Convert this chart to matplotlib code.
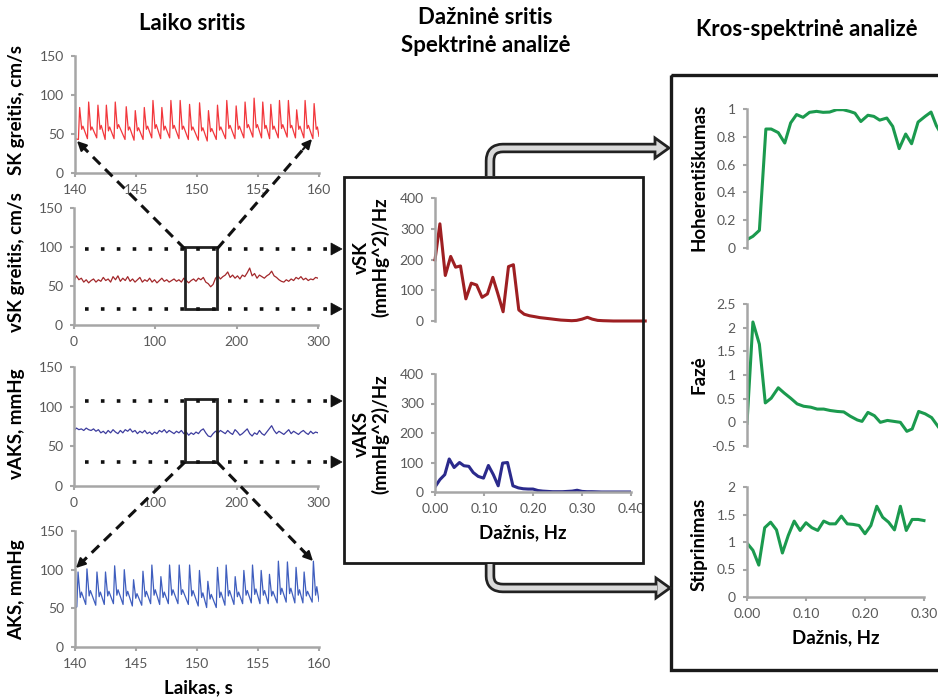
import numpy as np
import matplotlib
matplotlib.use('Agg')
import matplotlib.pyplot as plt
from matplotlib.patches import Rectangle, Polygon, PathPatch, FancyArrowPatch
from matplotlib.lines import Line2D
from matplotlib.path import Path
from matplotlib.transforms import Affine2D
from matplotlib.ticker import FuncFormatter

plt.rcParams['font.family'] = ['Lato', 'DejaVu Sans']
plt.rcParams['axes.unicode_minus'] = False

# ---------------- data ----------------
sk_t = [140.00,
        140.28, 140.38, 140.55, 140.65, 141.02, 141.12, 141.29, 141.39,
        141.78, 141.88, 142.05, 142.15, 142.47, 142.57, 142.74, 142.84,
        143.20, 143.30, 143.47, 143.57, 144.10, 144.20, 144.37, 144.47,
        144.84, 144.94, 145.11, 145.21, 145.58, 145.68, 145.85, 145.95,
        146.29, 146.39, 146.56, 146.66, 147.02, 147.12, 147.29, 147.39,
        147.76, 147.86, 148.03, 148.13, 148.52, 148.62, 148.79, 148.89,
        149.29, 149.39, 149.56, 149.66, 150.11, 150.21, 150.38, 150.48,
        150.84, 150.94, 151.11, 151.21, 151.58, 151.68, 151.85, 151.95,
        152.34, 152.44, 152.61, 152.71, 153.11, 153.21, 153.38, 153.48,
        153.84, 153.94, 154.11, 154.21, 154.58, 154.68, 154.85, 154.95,
        155.29, 155.39, 155.56, 155.66, 155.95, 156.05, 156.22, 156.32,
        156.66, 156.76, 156.93, 157.03, 157.39, 157.49, 157.66, 157.76,
        158.07, 158.17, 158.34, 158.44, 158.76, 158.86, 159.03, 159.13,
        159.50, 159.60, 159.77, 159.87, 160.00]
sk_v = [44,
        43, 84, 56, 60, 44, 91, 55, 59,
        45, 87, 56, 61, 43, 87, 54, 59,
        44, 91, 57, 62, 43, 85, 55, 59,
        42, 80, 54, 58, 43, 84, 56, 60,
        45, 93, 57, 62, 44, 84, 55, 60,
        45, 93, 57, 61, 44, 93, 56, 60,
        43, 88, 55, 59, 42, 90, 54, 58,
        41, 80, 53, 57, 43, 87, 55, 59,
        44, 93, 57, 61, 44, 86, 56, 60,
        45, 91, 58, 62, 46, 96, 58, 62,
        45, 91, 57, 61, 44, 88, 56, 60,
        45, 93, 57, 62, 46, 93, 58, 61,
        45, 81, 56, 60, 45, 93, 57, 61,
        44, 89, 56, 59, 47]

aks_t = [140.00,
         140.15, 140.25, 140.43, 140.53, 140.88, 140.98, 141.16, 141.26,
         141.70, 141.80, 141.98, 142.08, 142.40, 142.50, 142.68, 142.78,
         143.15, 143.25, 143.43, 143.53, 143.94, 144.04, 144.22, 144.32,
         144.70, 144.80, 144.98, 145.08, 145.47, 145.57, 145.75, 145.85,
         146.20, 146.30, 146.48, 146.58, 146.94, 147.04, 147.22, 147.32,
         147.65, 147.75, 147.93, 148.03, 148.44, 148.54, 148.72, 148.82,
         149.29, 149.39, 149.57, 149.67, 150.10, 150.20, 150.38, 150.48,
         150.79, 150.89, 151.07, 151.17, 151.58, 151.68, 151.86, 151.96,
         152.29, 152.39, 152.57, 152.67, 153.03, 153.13, 153.31, 153.41,
         153.74, 153.84, 154.02, 154.12, 154.45, 154.55, 154.73, 154.83,
         155.16, 155.26, 155.44, 155.54, 155.84, 155.94, 156.12, 156.22,
         156.57, 156.67, 156.85, 156.95, 157.31, 157.41, 157.59, 157.69,
         158.02, 158.12, 158.30, 158.40, 158.68, 158.78, 158.96, 159.06,
         159.44, 159.54, 159.72, 159.82, 160.00]
aks_v = [50,
         52, 97, 64, 71, 55, 101, 66, 73,
         54, 97, 65, 71, 55, 97, 66, 72,
         56, 105, 67, 74, 55, 100, 66, 72,
         53, 87, 63, 69, 54, 98, 65, 72,
         56, 106, 67, 74, 55, 91, 64, 71,
         56, 106, 67, 74, 56, 106, 68, 74,
         55, 106, 66, 73, 53, 99, 64, 70,
         51, 85, 62, 68, 51, 103, 64, 71,
         54, 106, 66, 73, 55, 91, 65, 71,
         56, 99, 67, 73, 57, 106, 68, 75,
         56, 99, 67, 73, 56, 94, 66, 72,
         57, 111, 68, 76, 58, 110, 69, 76,
         57, 103, 67, 74, 57, 97, 66, 72,
         58, 111, 67, 78, 59]

vsk_t = list(range(0, 301, 3))
vsk_v = [57, 63, 58, 60, 55, 58, 54, 57, 59, 55, 58, 56, 61, 57, 59, 55, 62, 58,
         63, 56, 60, 57, 62, 56, 59, 55, 58, 61, 55, 58, 56, 60, 55, 58, 54, 57,
         60, 56, 58, 55, 57, 59, 56, 58, 55, 60, 57, 54, 57, 59, 56, 60, 58, 61,
         55, 53, 49, 52, 60, 63, 59, 62, 64, 68, 61, 64, 60, 63, 59, 64, 62, 67,
         73, 63, 66, 60, 64, 62, 60, 63, 65, 69, 63, 61, 58, 56, 55, 58, 56, 59,
         57, 61, 59, 62, 58, 60, 57, 59, 58, 61, 60]

vaks_t = list(range(0, 301, 3))
vaks_v = [70, 73, 71, 72, 70, 73, 71, 70, 72, 69, 71, 67, 69, 66, 70, 67, 71, 68,
          66, 70, 67, 71, 69, 72, 68, 70, 66, 69, 67, 70, 66, 68, 65, 68, 66, 70,
          68, 71, 67, 70, 68, 66, 69, 67, 70, 66, 68, 64, 67, 65, 68, 66, 70, 72,
          67, 63, 62, 66, 69, 67, 70, 68, 66, 70, 67, 65, 71, 68, 64, 66, 69, 72,
          66, 63, 67, 65, 70, 66, 64, 68, 72, 76, 70, 66, 69, 67, 65, 68, 71, 66,
          69, 67, 65, 68, 70, 67, 65, 69, 66, 68, 67]

psd_vsk_f = [0.000, 0.010, 0.021, 0.032, 0.042, 0.052, 0.063, 0.074, 0.085, 0.096,
             0.107, 0.118, 0.128, 0.139, 0.150, 0.160, 0.171, 0.182, 0.193, 0.204,
             0.214, 0.225, 0.236, 0.246, 0.257, 0.268, 0.279, 0.289, 0.300, 0.311,
             0.321, 0.332, 0.343, 0.354, 0.364, 0.375, 0.386, 0.396, 0.407, 0.418, 0.429]
psd_vsk_v = [199, 316, 148, 210, 175, 179, 72, 123, 117, 77,
             88, 142, 90, 30, 177, 183, 36, 22, 17, 14,
             11, 9, 7, 5, 3, 2, 1, 2, 6, 12,
             6, 2, 1, 0.5, 0, 0, 0, 0, 0, 0, 0]

psd_vaks_f = [0.000, 0.010, 0.020, 0.029, 0.039, 0.050, 0.059, 0.069, 0.078, 0.088,
              0.099, 0.109, 0.119, 0.129, 0.138, 0.148, 0.159, 0.170, 0.180, 0.190,
              0.200, 0.210, 0.220, 0.230, 0.240, 0.250, 0.260, 0.270, 0.280, 0.290,
              0.300, 0.310, 0.320, 0.340, 0.360, 0.380, 0.400]
psd_vaks_v = [17, 42, 59, 112, 83, 100, 89, 87, 66, 53,
              47, 90, 59, 21, 98, 100, 21, 14, 11, 10,
              10, 5, 3, 2, 1, 1, 1, 2, 3, 6,
              2, 1, 1, 0, 0, 0, 0]

coh_f = [0.000, 0.010, 0.021, 0.032, 0.041, 0.053, 0.064, 0.074, 0.084, 0.095,
         0.106, 0.118, 0.129, 0.140, 0.152, 0.163, 0.174, 0.183, 0.193, 0.205,
         0.215, 0.225, 0.237, 0.247, 0.258, 0.269, 0.279, 0.290, 0.302, 0.312,
         0.321, 0.332]
coh_v = [0.06, 0.084, 0.127, 0.856, 0.856, 0.83, 0.755, 0.90, 0.96, 0.94,
         0.976, 0.983, 0.976, 0.978, 0.995, 0.995, 0.983, 0.97, 0.91, 0.955,
         0.947, 0.92, 0.935, 0.875, 0.715, 0.82, 0.75, 0.906, 0.947, 0.978,
         0.88, 0.80]

phase_f = [0.000, 0.010, 0.021, 0.031, 0.041, 0.053, 0.063, 0.074, 0.085, 0.096,
           0.108, 0.119, 0.130, 0.141, 0.153, 0.164, 0.175, 0.187, 0.195, 0.205,
           0.216, 0.226, 0.238, 0.249, 0.260, 0.271, 0.280, 0.291, 0.302, 0.313, 0.324]
phase_v = [-0.02, 2.12, 1.65, 0.41, 0.51, 0.73, 0.62, 0.51, 0.39, 0.34,
           0.32, 0.28, 0.28, 0.25, 0.23, 0.22, 0.13, 0.05, 0.02, 0.21,
           0.14, 0.0, 0.04, 0.02, 0.0, -0.19, -0.14, 0.23, 0.18, 0.10, -0.09]

gain_f = [0.00, 0.01, 0.02, 0.03, 0.04, 0.05, 0.06, 0.07, 0.08, 0.09,
          0.10, 0.11, 0.12, 0.13, 0.14, 0.15, 0.16, 0.17, 0.18, 0.19,
          0.20, 0.21, 0.22, 0.23, 0.24, 0.25, 0.26, 0.27, 0.28, 0.29, 0.30]
gain_v = [0.98, 0.85, 0.58, 1.26, 1.36, 1.22, 0.80, 1.12, 1.38, 1.21,
          1.35, 1.26, 1.21, 1.38, 1.33, 1.33, 1.47, 1.33, 1.32, 1.30,
          1.15, 1.30, 1.65, 1.45, 1.36, 1.22, 1.65, 1.21, 1.41, 1.41, 1.39]

# ---------------- figure ----------------
W, H = 938, 698
fig = plt.figure(figsize=(W / 100, H / 100), dpi=100)
fig.patch.set_facecolor('white')
PX = Affine2D().scale(1 / W, -1 / H).translate(0, 1) + fig.transFigure

AXC = '#A6A6A6'
TXC = '#595959'
LBL = 13.5
TTL = 16


def add_ax(x0, y0, x1, y1):
    return fig.add_axes([x0 / W, 1 - y1 / H, (x1 - x0) / W, (y1 - y0) / H])


def style(ax, bottom=True):
    for s in ['top', 'right']:
        ax.spines[s].set_visible(False)
    for s in ['left', 'bottom']:
        ax.spines[s].set_color(AXC)
        ax.spines[s].set_linewidth(1.8)
    ax.tick_params(colors=AXC, labelcolor=TXC, labelsize=10, length=3,
                   width=1.5, direction='out', pad=5)
    if not bottom:
        ax.spines['bottom'].set_visible(False)
        ax.tick_params(axis='x', bottom=False, labelbottom=False)
    ax.patch.set_alpha(0)


def ftext(x, y, s, size=LBL, rot=0, **kw):
    fig.text(x, y, s, transform=PX, ha='center', va='center', rotation=rot,
             fontsize=size, fontweight='bold', color='black', **kw)


gfmt = FuncFormatter(lambda v, p: f'{v:g}')
f2 = FuncFormatter(lambda v, p: f'{v:.2f}')

# left column
ax1 = add_ax(75, 56, 319, 173)
ax1.plot(sk_t, sk_v, color='#F2373C', lw=0.9)
ax1.set_xlim(140, 160); ax1.set_ylim(0, 150)
ax1.set_xticks([140, 145, 150, 155, 160]); ax1.set_yticks([0, 50, 100, 150])
style(ax1)

ax2 = add_ax(74, 208, 318, 325)
ax2.plot(vsk_t, vsk_v, color='#A3282B', lw=0.9)
ax2.set_xlim(0, 300); ax2.set_ylim(0, 150)
ax2.set_xticks([0, 100, 200, 300]); ax2.set_yticks([0, 50, 100, 150])
style(ax2)

ax3 = add_ax(74, 367, 318, 486)
ax3.plot(vaks_t, vaks_v, color='#3D3D9E', lw=0.9)
ax3.set_xlim(0, 300); ax3.set_ylim(0, 150)
ax3.set_xticks([0, 100, 200, 300]); ax3.set_yticks([0, 50, 100, 150])
style(ax3)

ax4 = add_ax(75, 531, 319, 647)
ax4.plot(aks_t, aks_v, color='#3F5EBE', lw=0.9)
ax4.set_xlim(140, 160); ax4.set_ylim(0, 150)
ax4.set_xticks([140, 145, 150, 155, 160]); ax4.set_yticks([0, 50, 100, 150])
style(ax4)

# zoom boxes
ax2.add_patch(Rectangle((137, 20), 39, 80, fill=False, ec='#222222', lw=2.0,
                        clip_on=False, zorder=5))
ax3.add_patch(Rectangle((137, 30), 39, 80, fill=False, ec='#222222', lw=2.0,
                        clip_on=False, zorder=5))

# middle column
ax5 = add_ax(435, 198, 631, 321)
ax5.plot(psd_vsk_f, psd_vsk_v, color='#9E1F22', lw=2.2, clip_on=False)
ax5.set_xlim(0, 0.40); ax5.set_ylim(0, 400)
ax5.set_yticks([0, 100, 200, 300, 400])
style(ax5, bottom=False)

ax6 = add_ax(435, 374, 631, 492)
ax6.plot(psd_vaks_f, psd_vaks_v, color='#2B2A8C', lw=2.2)
ax6.set_xlim(0, 0.40); ax6.set_ylim(0, 400)
ax6.set_xticks([0, 0.1, 0.2, 0.3, 0.4]); ax6.set_yticks([0, 100, 200, 300, 400])
ax6.xaxis.set_major_formatter(f2)
style(ax6)

# right column
GREEN = '#1B9A4E'
XR = 0.356
ax7 = add_ax(747, 109, 957, 248)
ax7.plot(coh_f, coh_v, color=GREEN, lw=2.2)
ax7.set_xlim(0, XR); ax7.set_ylim(0, 1)
ax7.set_yticks([0, 0.2, 0.4, 0.6, 0.8, 1]); ax7.yaxis.set_major_formatter(gfmt)
style(ax7, bottom=False)

ax8 = add_ax(747, 304, 957, 446)
ax8.plot(phase_f, phase_v, color=GREEN, lw=2.2)
ax8.set_xlim(0, XR); ax8.set_ylim(-0.5, 2.5)
ax8.set_yticks([-0.5, 0, 0.5, 1, 1.5, 2, 2.5]); ax8.yaxis.set_major_formatter(gfmt)
style(ax8, bottom=False)

ax9 = add_ax(747, 487, 957, 597)
ax9.plot(gain_f, gain_v, color=GREEN, lw=2.2)
ax9.set_xlim(0, XR); ax9.set_ylim(0, 2)
ax9.set_yticks([0, 0.5, 1, 1.5, 2]); ax9.yaxis.set_major_formatter(gfmt)
ax9.set_xticks([0, 0.1, 0.2, 0.3]); ax9.xaxis.set_major_formatter(f2)
style(ax9)
ax9.spines['bottom'].set_bounds(0, 0.3)

# ---------------- frames ----------------
fig.add_artist(Rectangle((344, 177), 299, 386, transform=PX, fill=False,
                         ec='#1a1a1a', lw=2.0))
fig.add_artist(Rectangle((671, 75), 290, 595, transform=PX, fill=False,
                         ec='#1a1a1a', lw=2.4))


# thick outlined arrows
def fat_arrow(pts, codes, tip):
    path = Path(pts, codes)
    fig.add_artist(PathPatch(path, transform=PX, fill=False, ec='#222222',
                             lw=7.5, capstyle='butt', joinstyle='round'))
    tx, ty = tip
    fig.add_artist(Polygon([(tx - 14, ty - 10), (tx, ty), (tx - 14, ty + 10)],
                           closed=True, transform=PX, fc='#D9D9D9',
                           ec='#222222', lw=2.0, joinstyle='miter'))
    fig.add_artist(PathPatch(path, transform=PX, fill=False, ec='#D9D9D9',
                             lw=3.6, capstyle='butt', joinstyle='round'))


fat_arrow([(490, 176), (490, 161), (490, 148), (503, 148), (657, 148)],
          [Path.MOVETO, Path.LINETO, Path.CURVE3, Path.CURVE3, Path.LINETO],
          (669, 148))
fat_arrow([(490, 564), (490, 576), (490, 588), (503, 588), (657, 588)],
          [Path.MOVETO, Path.LINETO, Path.CURVE3, Path.CURVE3, Path.LINETO],
          (670, 588))

# dotted arrows to spectral box
for yy in [249, 309, 401, 462]:
    fig.add_artist(Line2D([85, 332], [yy, yy], transform=PX, color='#111111',
                          lw=2.6, ls=(0, (1, 3.4)), dash_capstyle='butt'))
    fig.add_artist(Polygon([(331, yy - 6), (342, yy), (331, yy + 6)], closed=True,
                           transform=PX, fc='#111111', ec='#111111', lw=0.5))


# dashed arrows from zoom boxes
def dashed_arrow(x0, y0, x1, y1):
    d = np.hypot(x1 - x0, y1 - y0)
    ux, uy = (x1 - x0) / d, (y1 - y0) / d
    fig.add_artist(Line2D([x0, x1 - 10 * ux], [y0, y1 - 10 * uy], transform=PX,
                          color='#111111', lw=2.2, ls=(0, (3.4, 2.2))))
    fig.add_artist(FancyArrowPatch((x1 - 14 * ux, y1 - 14 * uy), (x1, y1),
                                   transform=PX, arrowstyle='-|>',
                                   mutation_scale=14, color='#111111', lw=1.5,
                                   shrinkA=0, shrinkB=0))


dashed_arrow(185, 249, 77, 141)
dashed_arrow(217, 249, 312, 139)
dashed_arrow(185, 462, 76, 568)
dashed_arrow(217, 462, 313, 561)

# ---------------- texts ----------------
ftext(192, 24, 'Laiko sritis', size=TTL)
ftext(485, 18, 'Dažninė sritis', size=TTL)
ftext(486, 46, 'Spektrinė analizė', size=TTL)
ftext(807, 30, 'Kros-spektrinė analizė', size=TTL)

ftext(17, 110, 'SK greitis, cm/s', rot=90)
ftext(17, 262, 'vSK greitis, cm/s', rot=90)
ftext(17, 424, 'vAKS, mmHg', rot=90)
ftext(17, 590, 'AKS, mmHg', rot=90)
ftext(198, 688, 'Laikas, s')

ftext(371, 257, 'vSK\n(mmHg^2)/Hz', rot=90, linespacing=1.05)
ftext(371, 434, 'vAKS\n(mmHg^2)/Hz', rot=90, linespacing=1.05)
ftext(523, 533, 'Dažnis, Hz')

ftext(699, 177, 'Hoherentiškumas', rot=90)
ftext(699, 375, 'Fazė', rot=90)
ftext(699, 544, 'Stiprinimas', rot=90)
ftext(836, 638, 'Dažnis, Hz')

fig.savefig('out.png', dpi=100)
